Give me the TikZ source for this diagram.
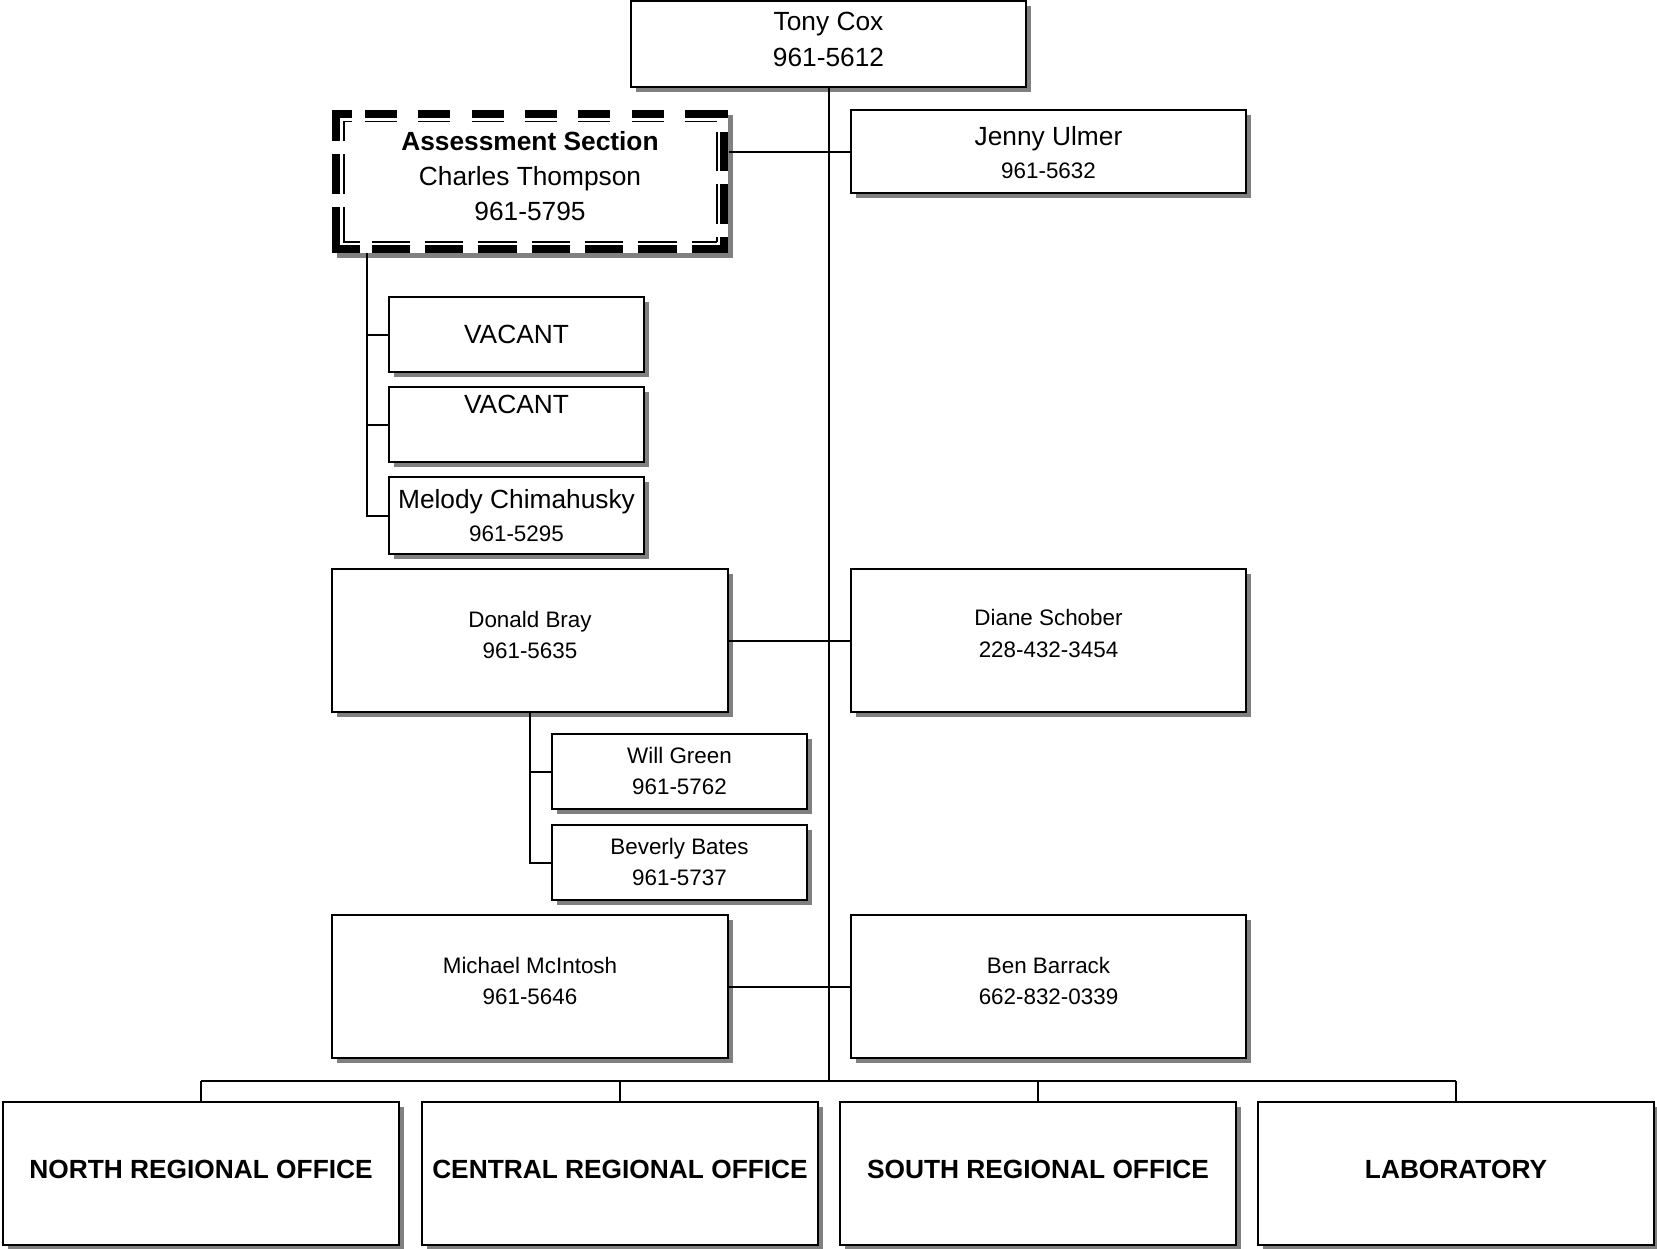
\documentclass[tikz,border=0pt]{standalone}
\usepackage{fontspec}
\setmainfont{Liberation Sans}
\usetikzlibrary{shadows}
\tikzset{
  shad/.style={drop shadow={shadow xshift=4.5pt, shadow yshift=-4.5pt, fill=black!50, opacity=1}},
  box/.style={draw=black, line width=2pt, fill=white, inner sep=0pt, shad},
  bigbox/.style={box, minimum width=396pt, minimum height=143pt},
  smallbox/.style={box, minimum width=255pt, minimum height=75pt},
  big/.style={anchor=base, inner sep=0pt, font=\fontsize{26.3pt}{30pt}\selectfont},
  bigb/.style={anchor=base, inner sep=0pt, font=\fontsize{26.3pt}{30pt}\selectfont\bfseries},
  small/.style={anchor=base, inner sep=0pt, font=\fontsize{22.4pt}{26pt}\selectfont},
  link/.style={line width=2pt, draw=black},
  thickdash/.style={line width=8pt, draw=black},
  thindash/.style={line width=1.6pt, draw=black},
  toppat/.style={dash pattern=on 20pt off 13pt on 32pt off 21.33pt on 32pt off 21.33pt on 32pt off 21.33pt on 32pt off 21.33pt on 32pt off 21.33pt on 32pt off 21.33pt on 50pt off 10pt},
  rightpat/.style={dash pattern=on 7pt off 15pt on 39pt off 13pt on 40pt off 13pt on 30pt off 10pt},
  botpat/.style={dash pattern=on 28pt off 12pt on 38pt off 15pt on 38pt off 15pt on 39pt off 15pt on 38pt off 15pt on 38pt off 15pt on 39pt off 15pt on 50pt off 10pt},
  leftpat/.style={dash pattern=on 31pt off 13pt on 40pt off 13pt on 40pt off 10pt},
}
\begin{document}
\begin{tikzpicture}[x=1pt,y=-1pt]
\useasboundingbox (0,0) rectangle (1657,1248);

% boxes
\node[box, minimum width=395pt, minimum height=86pt] (tony) at (828.5,44) {};
\node[box, draw=none, minimum width=396pt, minimum height=143pt] (assess) at (530,181.5) {};
\node[box, minimum width=395pt, minimum height=83pt] (jenny) at (1048.5,151.5) {};
\node[smallbox] (vac1) at (516.5,334.5) {};
\node[smallbox] (vac2) at (516.5,424.5) {};
\node[smallbox, minimum height=77pt] (melody) at (516.5,515.5) {};
\node[bigbox] (donald) at (530,640.5) {};
\node[bigbox, minimum width=395pt] (diane) at (1048.5,640.5) {};
\node[smallbox] (will) at (679.5,771.5) {};
\node[smallbox] (bev) at (679.5,862.5) {};
\node[bigbox] (michael) at (530,986.5) {};
\node[bigbox, minimum width=395pt] (ben) at (1048.5,986.5) {};
\node[bigbox] (north) at (201,1173.5) {};
\node[bigbox] (central) at (620,1173.5) {};
\node[bigbox] (south) at (1038,1173.5) {};
\node[bigbox] (lab) at (1456,1173.5) {};

% dashed double border of the assessment box
\draw[thickdash, toppat] (332,114) -- (728,114);
\draw[thickdash, rightpat] (724,110) -- (724,253);
\draw[thickdash, botpat] (332,249) -- (728,249);
\draw[thickdash, leftpat] (336,110) -- (336,253);
\draw[thindash, toppat, dash phase=11pt] (343,121.5) -- (717,121.5);
\draw[thindash, rightpat, dash phase=11.5pt] (717,121.5) -- (717,242);
\draw[thindash, botpat, dash phase=11pt] (343,242) -- (717,242);
\draw[thindash, leftpat, dash phase=11.5pt] (344,121.5) -- (344,242);

% connectors
\coordinate (busY) at (0,1081);
\coordinate (aTop) at (367,253);
\draw[link] (tony.south) -- (tony.south |- busY);
\draw[link] (north.north |- busY) -- (lab.north |- busY);
\foreach \n in {north,central,south,lab}
  \draw[link] (\n.north |- busY) -- (\n.north);
\draw[link] (assess.east |- jenny.west) -- (jenny.west);
\draw[link] (donald.east) -- (diane.west);
\draw[link] (michael.east) -- (ben.west);
\draw[link] (aTop) -- (aTop |- melody.west) -- (melody.west);
\draw[link] (aTop |- vac1.west) -- (vac1.west);
\draw[link] (aTop |- vac2.west) -- (vac2.west);
\draw[link] (donald.south) -- (donald.south |- bev.west) -- (bev.west);
\draw[link] (donald.south |- will.west) -- (will.west);

% texts
\node[big] (tonyA) at (828.5,30) {Tony Cox};
\node[big] (tonyB) at (828.5,66) {961-5612};
\node[bigb] (asA) at (530,150.5) {Assessment Section};
\node[big] (asB) at (530,185) {Charles Thompson};
\node[big] (asC) at (530,220.5) {961-5795};
\node[big] (jenA) at (1048.5,145) {Jenny Ulmer};
\node[small] (jenB) at (1048.5,178) {961-5632};
\node[big] (vac1A) at (516.5,343.5) {VACANT};
\node[big] (vac2A) at (516.5,413) {VACANT};
\node[big] (melA) at (516.5,508.5) {Melody Chimahusky};
\node[small] (melB) at (516.5,541) {961-5295};
\node[small] (donA) at (530,627) {Donald Bray};
\node[small] (donB) at (530,658.5) {961-5635};
\node[small] (diaA) at (1048.5,625) {Diane Schober};
\node[small] (diaB) at (1048.5,657) {228-432-3454};
\node[small] (wilA) at (679.5,763.5) {Will Green};
\node[small] (wilB) at (679.5,794) {961-5762};
\node[small] (bevA) at (679.5,854) {Beverly Bates};
\node[small] (bevB) at (679.5,885) {961-5737};
\node[small] (micA) at (530,973) {Michael McIntosh};
\node[small] (micB) at (530,1004.5) {961-5646};
\node[small] (benA) at (1048.5,973) {Ben Barrack};
\node[small] (benB) at (1048.5,1004.5) {662-832-0339};
\node[bigb] (northT) at (201,1178.5) {NORTH REGIONAL OFFICE};
\node[bigb] (centralT) at (620,1178.5) {CENTRAL REGIONAL OFFICE};
\node[bigb] (southT) at (1038,1178.5) {SOUTH REGIONAL OFFICE};
\node[bigb] (labT) at (1456,1178.5) {LABORATORY};
\end{tikzpicture}
\end{document}
